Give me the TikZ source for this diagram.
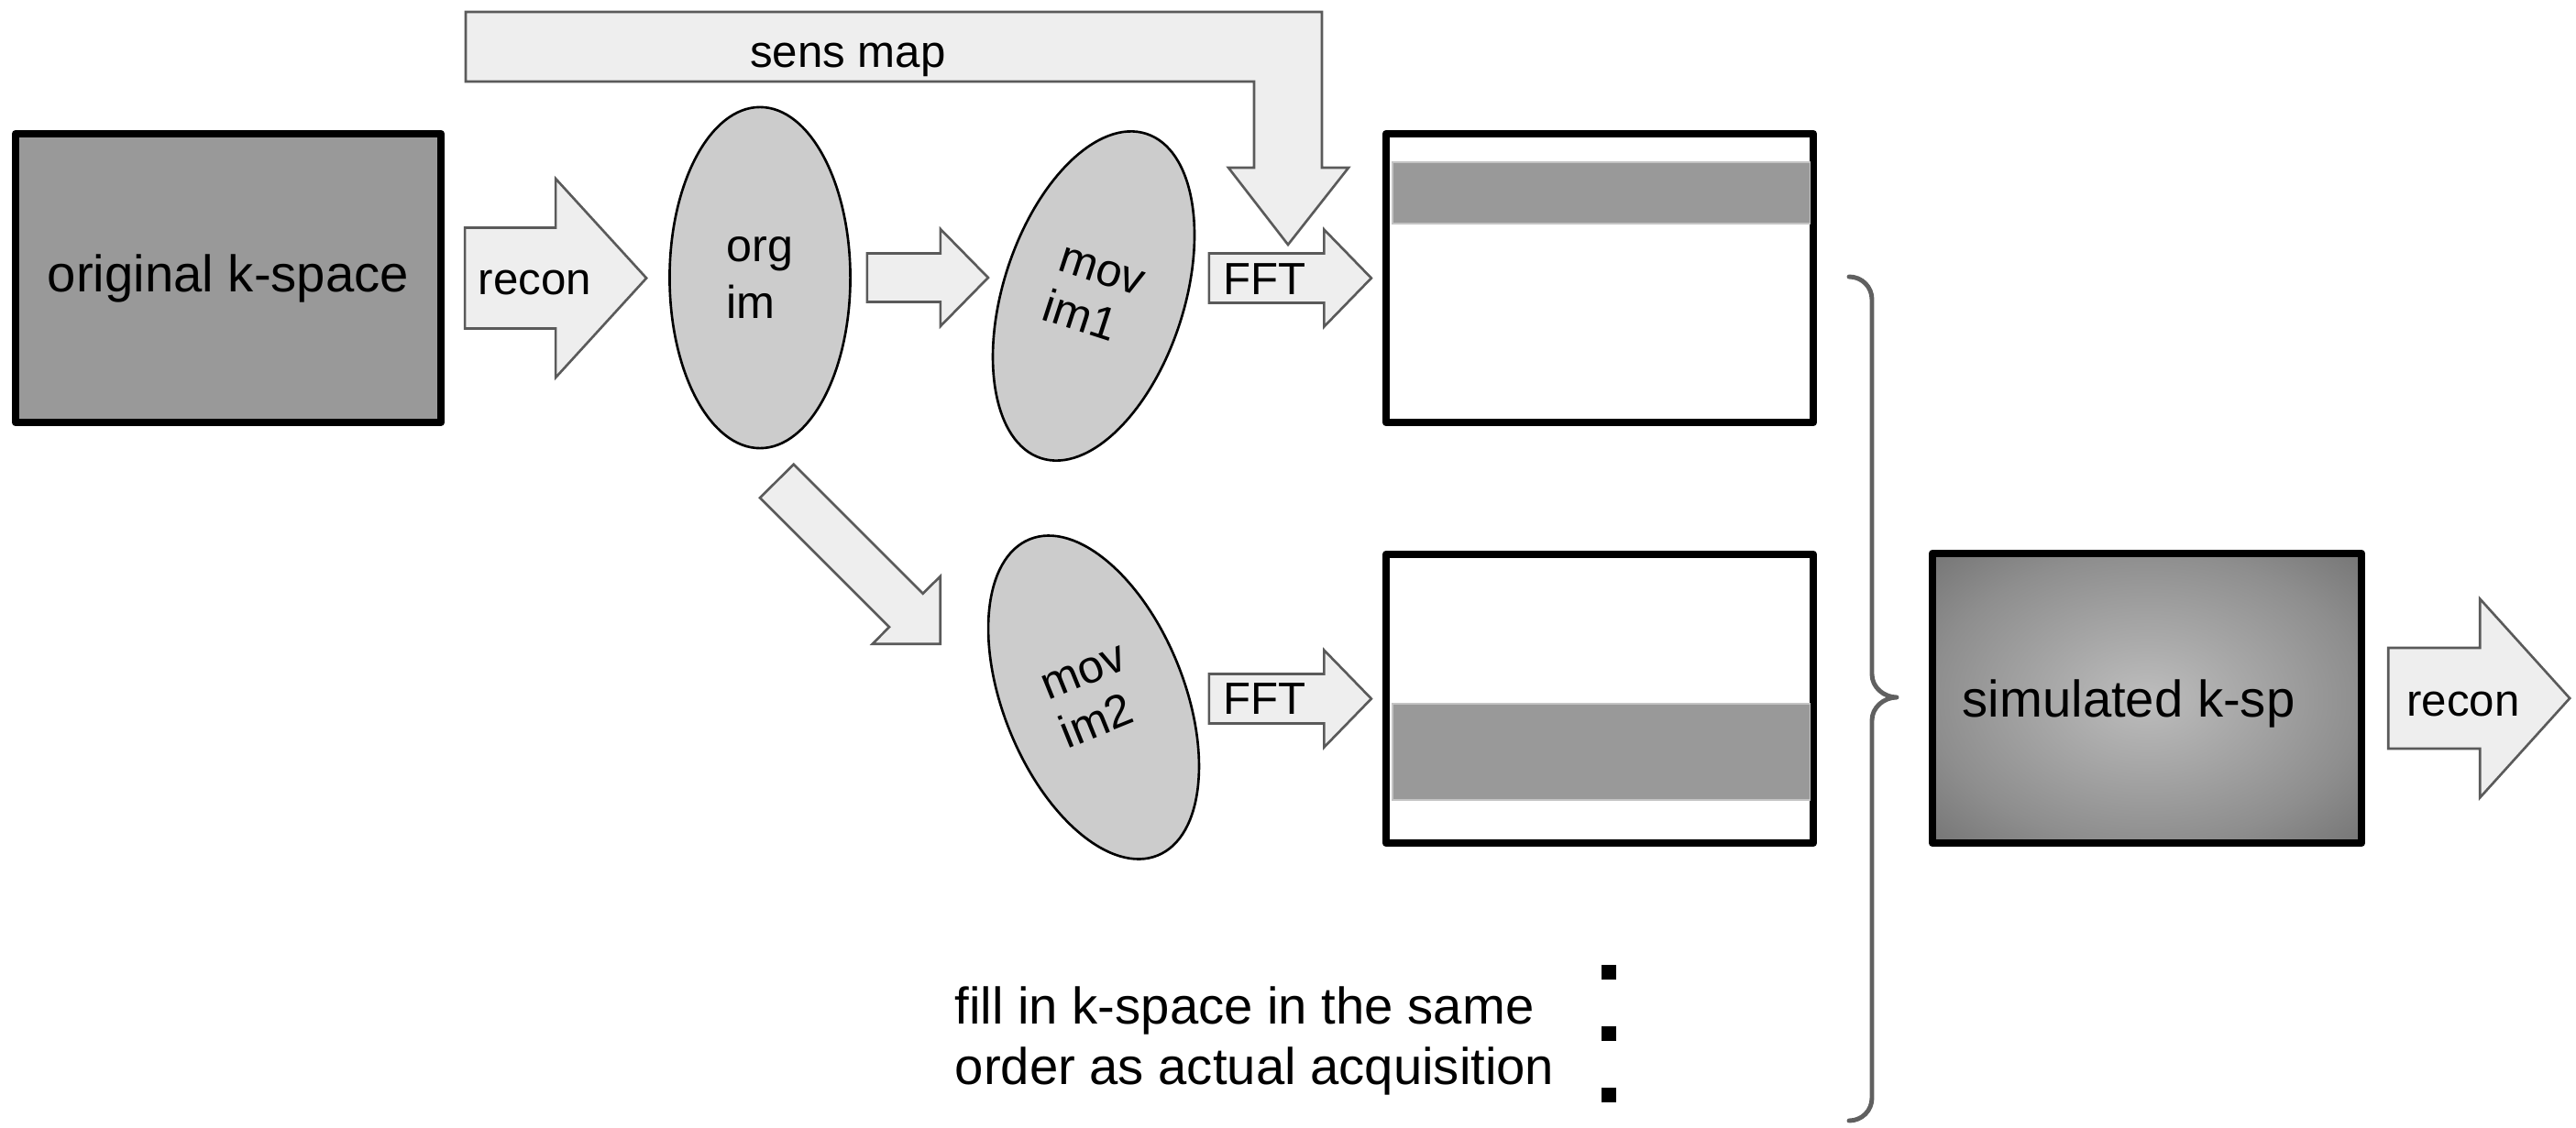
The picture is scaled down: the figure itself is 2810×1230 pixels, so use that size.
\documentclass[tikz,border=0pt]{standalone}
\usepackage{fontspec}
\setmainfont{Liberation Sans}
\usetikzlibrary{calc,shapes.geometric}
\definecolor{kgray}{HTML}{999999}
\definecolor{egray}{HTML}{CCCCCC}
\definecolor{afill}{HTML}{EEEEEE}
\definecolor{aline}{HTML}{5A5A5A}
\definecolor{bline}{HTML}{606060}
\definecolor{bandedge}{HTML}{C4C4C4}
\definecolor{simc}{HTML}{BDBDBD}
\definecolor{simm}{HTML}{8E8E8E}
\definecolor{simo}{HTML}{747474}
\pgfdeclareradialshading{simshade}{\pgfpoint{0bp}{0bp}}{color(0bp)=(simc); color(25bp)=(simm); color(36bp)=(simo); color(50bp)=(simo)}
% horizontal block arrow: #1 start, #2 tip, #3 shaft half width, #4 head half width, #5 head length
\newcommand\blockharrow[5]{%
  \draw[blockarr] ($(#1)+(0,-#3)$) -- ($(#2)+(-#5,-#3)$) -- ($(#2)+(-#5,-#4)$) -- (#2)
    -- ($(#2)+(-#5,#4)$) -- ($(#2)+(-#5,#3)$) -- ($(#1)+(0,#3)$) -- cycle;}
\begin{document}
\begin{tikzpicture}[x=0.01cm,y=-0.01cm,
  kbox/.style={draw=black, line width=2.28pt, line join=round, rectangle, inner sep=0pt,
    minimum width=4.64cm, minimum height=3.15cm},
  ell/.style={ellipse, draw=black, line width=0.75pt, fill=egray, minimum width=1.97cm,
    minimum height=3.72cm, inner sep=0pt, align=left},
  blockarr/.style={draw=aline, fill=afill, line width=0.75pt, line join=miter},
  band/.style={fill=kgray, draw=bandedge, line width=0.35pt, inner sep=0pt, minimum width=4.55cm},
  lblsmall/.style={inner sep=0pt, font=\fontsize{14}{17}\selectfont},
  lblbig/.style={inner sep=0pt, font=\fontsize{16}{18.8}\selectfont},
  bracket/.style={draw=bline, line width=1.4pt, line cap=round, line join=round},
  dot/.style={fill=black, inner sep=0pt, minimum size=0.16cm, rectangle},
]
\useasboundingbox (0,0) rectangle (2810,1230);

% main boxes
\node[kbox, fill=kgray, font=\fontsize{16}{18.8}\selectfont] (ksp) at (249,303.5) {original k-space};
\node[kbox, fill=white, minimum width=4.66cm] (r1) at (1745,303.5) {};
\node[kbox, fill=white, minimum width=4.66cm] (r2) at (1745,762.5) {};
\node[kbox, shade, shading=simshade, minimum width=4.68cm, minimum height=3.16cm] (sim) at (2342,762) {};
\node[lblbig, anchor=base west] (simtxt) at (2140,782) {simulated k-sp};

% acquired lines
\node[band, minimum height=0.67cm] (band1) at (1746.5,210.5) {};
\node[band, minimum height=1.05cm] (band2) at (1746.5,820.5) {};

% images
\node[ell, font=\fontsize{14.3}{17.4}\selectfont] (org) at (829,303) {org\\im};
\node[ell, rotate=-18, font=\fontsize{14.3}{16.2}\selectfont] (mov1) at (1193,323) {mov\\im1};
\node[ell, rotate=22, font=\fontsize{14.3}{16.2}\selectfont] (mov2) at (1193,761) {mov\\im2};

% recon arrow (left)
\coordinate (a1s) at ($(ksp.east)+(22,0)$);
\coordinate (a1t) at ($(a1s)+(198,0)$);
\blockharrow{a1s}{a1t}{55}{108.5}{99}
\node[lblsmall, anchor=base] (recon1) at (583.5,321) {recon};

% org -> mov1
\coordinate (a2s) at ($(org.east)+(17,0)$);
\coordinate (a2t) at ($(a2s)+(132,0)$);
\blockharrow{a2s}{a2t}{26.5}{53}{52}

% org -> mov2 (diagonal)
\coordinate (a6t) at (1025.7,702.7);
\draw[blockarr] ($(a6t)+(-160,-196)$) -- ($(a6t)+(-19,-55)$) -- ($(a6t)+(0,-73.7)$) -- (a6t)
  -- ($(a6t)+(-74,0)$) -- ($(a6t)+(-55.7,-18.4)$) -- ($(a6t)+(-196.7,-159.4)$) -- cycle;

% FFT arrows
\coordinate (a3t) at ($(r1.west)+(-12,0)$);
\coordinate (a3s) at ($(a3t)+(-177,0)$);
\blockharrow{a3s}{a3t}{27}{53}{51.5}
\node[lblsmall, anchor=base] (fft1) at (1379.5,321) {FFT};
\coordinate (a4t) at ($(r2.west)+(-12,0)$);
\coordinate (a4s) at ($(a4t)+(-177,0)$);
\blockharrow{a4s}{a4t}{27}{53}{51.5}
\node[lblsmall, anchor=base] (fft2) at (1379.5,779) {FFT};

% sens map bent arrow
\coordinate (smt) at (1405,267);
\draw[blockarr] (508,13) -- (1442,13) -- (1442,183) -- (1471,183) -- (smt) -- (1340,183)
  -- (1368,183) -- (1368,89) -- (508,89) -- cycle;
\node[lblsmall, anchor=base] (sens) at (925,73) {sens map};

% recon arrow (right)
\coordinate (a5s) at ($(sim.east)+(25,0)$);
\coordinate (a5t) at ($(a5s)+(198,0)$);
\blockharrow{a5s}{a5t}{55}{108.5}{98}
\node[lblsmall, anchor=base] (recon2) at (2687,781) {recon};

% brace
\draw[bracket] (2017,302) .. controls (2031,302) and (2042,313) .. (2042,327) -- (2042,736)
  .. controls (2042,750) and (2055,761) .. (2069,761)
  .. controls (2055,761) and (2042,772) .. (2042,786) -- (2042,1198)
  .. controls (2042,1212) and (2031,1223) .. (2017,1223);

% note and dots
\node[lblbig, anchor=west, align=left] (note) at (1041,1135.5) {fill in k-space in the same\\order as actual acquisition};
\node[dot] (dot1) at (1755,1061) {};
\node[dot] (dot2) at (1755,1128) {};
\node[dot] (dot3) at (1755,1195) {};
\end{tikzpicture}
\end{document}
